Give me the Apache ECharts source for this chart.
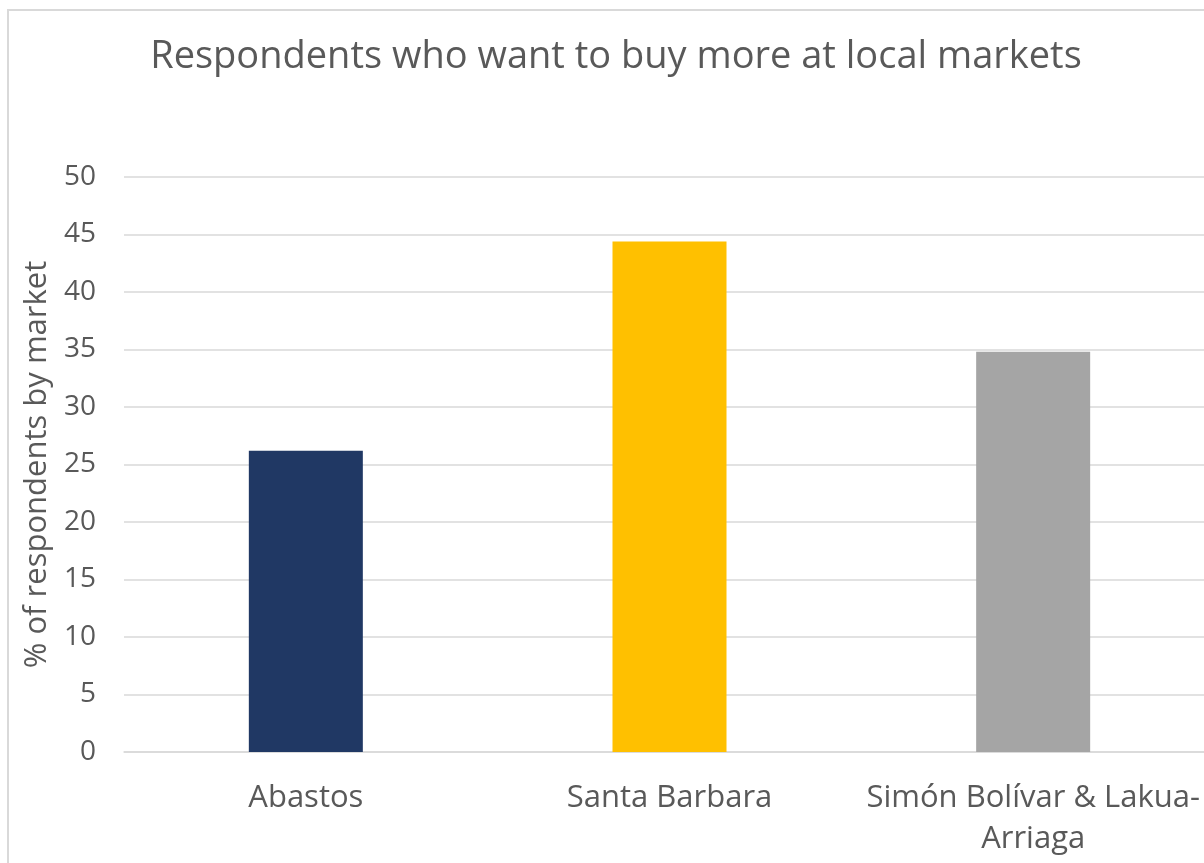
<!DOCTYPE html>
<html>
<head>
<meta charset="utf-8">
<script src="https://cdn.jsdelivr.net/npm/echarts@6/dist/echarts.min.js"></script>
<style>
  html, body { margin: 0; padding: 0; overflow: hidden; background: #ffffff; width: 1204px; height: 863px; }
  #chart {
    position: absolute; left: 7px; top: 9px;
    width: 1260px; height: 900px;
    border-left: 2px solid #d9d9d9; border-top: 2px solid #d9d9d9;
  }
</style>
</head>
<body>
<div id="chart"></div>
<script>
// Share of respondents (%) wanting to buy more at each local market
const markets = ['Abastos', 'Santa Barbara', 'Simón Bolívar & Lakua-Arriaga'];
const shares = [26.2, 44.4, 34.8];
const barColors = ['#203864', '#FFC000', '#A5A5A5'];
const yTicks = { min: 0, max: 50, interval: 5 };

const textColor = '#595959';
const fontFamily = '"Open Sans", Lato, sans-serif';

const chart = echarts.init(document.getElementById('chart'), null, { renderer: 'canvas' });
chart.setOption({
  animation: false,
  title: {
    text: 'Respondents who want to buy more at local markets',
    left: 602,
    top: 22,
    textAlign: 'center',
    textStyle: { color: textColor, fontFamily: fontFamily, fontSize: 38, fontWeight: 'normal' }
  },
  grid: { left: 115, top: 166, right: 54, bottom: 159, containLabel: false },
  xAxis: {
    type: 'category',
    data: markets,
    axisLine: { show: true, lineStyle: { color: '#d9d9d9', width: 1.5 } },
    axisTick: { show: false },
    axisLabel: {
      color: textColor, fontFamily: fontFamily, fontSize: 31, margin: 26, lineHeight: 41,
      interval: 0,
      formatter: v => v.replace('-', '-\n')
    }
  },
  yAxis: {
    type: 'value',
    min: yTicks.min, max: yTicks.max, interval: yTicks.interval,
    name: '% of respondents by market',
    nameLocation: 'middle',
    nameRotate: 90,
    nameGap: 70,
    nameTextStyle: { color: textColor, fontFamily: fontFamily, fontSize: 31 },
    axisLine: { show: false },
    axisTick: { show: false },
    axisLabel: { color: textColor, fontFamily: fontFamily, fontSize: 28, margin: 28 },
    splitLine: { lineStyle: { color: '#d9d9d9', width: 1.5 } }
  },
  series: [{
    type: 'bar',
    data: shares.map((v, i) => ({ value: v, itemStyle: { color: barColors[i] } })),
    barWidth: 114
  }]
});
</script>
</body>
</html>
